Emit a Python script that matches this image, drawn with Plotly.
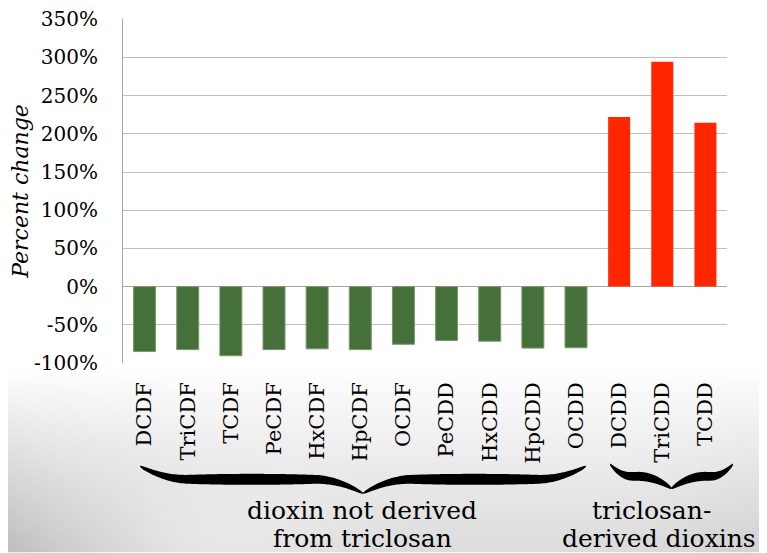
import base64
import struct
import zlib

import numpy as np
import plotly.graph_objects as go

# ---------------- data ----------------
categories_not_derived = ["DCDF", "TriCDF", "TCDF", "PeCDF", "HxCDF", "HpCDF",
                          "OCDF", "PeCDD", "HxCDD", "HpCDD", "OCDD"]
values_not_derived = [-85, -82.5, -90.5, -82.5, -81.5, -82.5, -75.5, -70.5, -71.5, -80.5, -80]

categories_derived = ["DCDD", "TriCDD", "TCDD"]
values_derived = [222, 294.5, 214.5]

y_tickvals = [-100, -50, 0, 50, 100, 150, 200, 250, 300, 350]
y_ticktext = ["-100%", "-50%", "0%", "50%", "100%", "150%", "200%", "250%", "300%", "350%"]

group_label_left = ["dioxin not derived", "from triclosan"]
group_label_right = ["triclosan-", "derived dioxins"]

all_categories = categories_not_derived + categories_derived

# ---------------- geometry (page pixels) ----------------
PAGE_W, PAGE_H = 767, 553
OFF = 8                      # default body margin of the page
FIG_W, FIG_H = PAGE_W - OFF, PAGE_H - OFF
L, R, T, B = 123, 727, 19, 363.5   # plot area in page pixels
PW, PH = R - L, B - T


def px2paper(x, y):
    return (x - L) / PW, (B - y) / PH


def brace_path(x0, x1, y_end, y_flat, y_tip, thick, a, b):
    u = np.linspace(0, 1, 241)
    s = 1 - np.abs(2 * u - 1)
    xs = x0 + u * (x1 - x0)
    y = np.full_like(s, y_flat, dtype=float)
    m1 = s < a
    y[m1] = y_flat + (y_end - y_flat) * (1 - s[m1] / a) ** 2
    m2 = s > 1 - b
    y[m2] = y_flat + (y_tip - y_flat) * ((s[m2] - (1 - b)) / b) ** 2
    h = 1.0 + (thick - 1.0) * np.sin(np.pi * s) ** 0.5
    top = [px2paper(xx, yy - hh / 2) for xx, yy, hh in zip(xs, y, h)]
    bot = [px2paper(xx, yy + hh / 2) for xx, yy, hh in zip(xs, y, h)]
    pts = top + bot[::-1]
    return "M " + " L ".join(f"{px:.5f},{py:.5f}" for px, py in pts) + " Z"


def gradient_png():
    w, h = 192, 48
    xs = OFF + (np.arange(w) + 0.5) / w * (PAGE_W - OFF)
    ys = 360 + (np.arange(h) + 0.5) / h * (PAGE_H - 360)
    X, Y = np.meshgrid(xs, ys)
    t = np.clip((Y - 372) / 181, 0, 1)
    d = (34 * t ** 0.9 + 34 * np.exp(-X / 110) * t
         + 10 * np.exp(-((X - 767) / 90) ** 2) * t
         - 14 * np.exp(-((X - 220) / 120) ** 2 - ((Y - 553) / 60) ** 2))
    v = np.clip(255 - d, 0, 255).astype(np.uint8)
    arr = np.stack([v, v, v], axis=-1)
    raw = b"".join(b"\x00" + arr[i].tobytes() for i in range(h))

    def chunk(tag, data):
        c = struct.pack(">I", len(data)) + tag + data
        return c + struct.pack(">I", zlib.crc32(tag + data) & 0xFFFFFFFF)

    png = (b"\x89PNG\r\n\x1a\n"
           + chunk(b"IHDR", struct.pack(">IIBBBBB", w, h, 8, 2, 0, 0, 0))
           + chunk(b"IDAT", zlib.compress(raw, 9))
           + chunk(b"IEND", b""))
    return "data:image/png;base64," + base64.b64encode(png).decode()


SERIF = "DejaVu Serif"

fig = go.Figure()
fig.add_trace(go.Bar(x=categories_not_derived, y=values_not_derived,
                     marker=dict(color="#46703a", line=dict(color="#7d9870", width=1)),
                     name="not derived", showlegend=False))
fig.add_trace(go.Bar(x=categories_derived, y=values_derived,
                     marker=dict(color="#ff2600", line=dict(width=0)),
                     name="derived", showlegend=False))

shapes = [
    dict(type="path", xref="paper", yref="paper",
         path=brace_path(140, 586, 467, 480, 494, 11, 0.22, 0.22),
         fillcolor="black", line=dict(width=0), layer="above"),
    dict(type="path", xref="paper", yref="paper",
         path=brace_path(610, 733, 465, 477, 489, 9, 0.35, 0.55),
         fillcolor="black", line=dict(width=0), layer="above"),
]

annotations = []
for txt, (cx, cy) in zip(group_label_left, [(362, 511), (362, 539)]):
    px, py = px2paper(cx, cy)
    annotations.append(dict(text=txt, x=px, y=py, xref="paper", yref="paper",
                            showarrow=False, xanchor="center", yanchor="middle",
                            font=dict(family=SERIF, size=25, color="black")))
for txt, (cx, cy) in zip(group_label_right, [(651, 511), (659, 539)]):
    px, py = px2paper(cx, cy)
    annotations.append(dict(text=txt, x=px, y=py, xref="paper", yref="paper",
                            showarrow=False, xanchor="center", yanchor="middle",
                            font=dict(family=SERIF, size=25, color="black")))

ix, iy = px2paper(OFF, 360)
fig.update_layout(
    width=FIG_W, height=FIG_H,
    margin=dict(l=L - OFF, r=PAGE_W - R, t=T - OFF, b=PAGE_H - B),
    paper_bgcolor="white", plot_bgcolor="rgba(0,0,0,0)",
    bargap=0.49,
    shapes=shapes,
    annotations=annotations,
    images=[dict(source=gradient_png(), xref="paper", yref="paper",
                 x=ix, y=iy, sizex=(PAGE_W - OFF) / PW, sizey=(PAGE_H - 360) / PH,
                 xanchor="left", yanchor="top", sizing="stretch", layer="below")],
    xaxis=dict(type="category", categoryorder="array", categoryarray=all_categories,
               range=[-0.5, len(all_categories) - 0.5],
               tickangle=-90, ticks="", showline=False, showgrid=False,
               ticklabelstandoff=14, automargin=False,
               tickfont=dict(family=SERIF, size=21, color="black")),
    xaxis2=dict(overlaying="x", anchor="free", position=100 / 450, side="bottom",
                type="linear", range=[-0.5, len(all_categories) - 0.5],
                tick0=-0.5, dtick=1, ticks="outside", ticklen=6, tickcolor="#a6a6a6",
                tickwidth=1, showticklabels=False, showline=False, showgrid=False,
                zeroline=False, automargin=False),
    yaxis=dict(range=[-100, 350.4], tickvals=y_tickvals, ticktext=y_ticktext,
               showgrid=True, gridcolor="#bfbfbf", gridwidth=1,
               zeroline=True, zerolinecolor="#a6a6a6", zerolinewidth=1,
               showline=True, linecolor="#a6a6a6", linewidth=1,
               ticks="", ticklabelstandoff=20, automargin=False,
               ticklabeloverflow="allow",
               tickfont=dict(family=SERIF, size=20, color="black"),
               title=dict(text="<i>Percent change</i>", standoff=6,
                          font=dict(family=SERIF, size=22, color="black"))),
)

fig.write_html("out.html")
